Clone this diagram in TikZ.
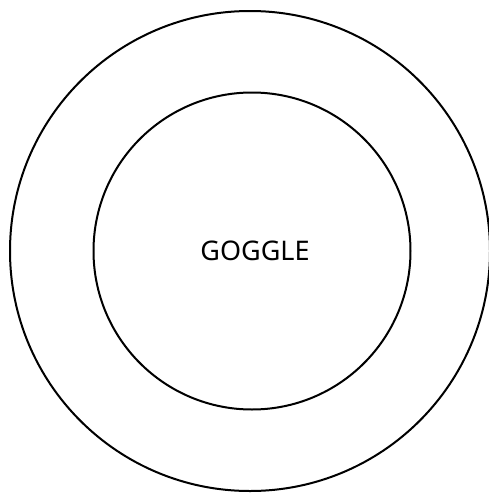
\documentclass[tikz,border=0pt]{standalone}
\usepackage{fontspec}
\setmainfont{Noto Sans}
\begin{document}
\begin{tikzpicture}[x=1pt,y=-1pt,
  ring/.style={circle,draw=black,line width=2pt,inner sep=0pt},
  lbl/.style={font=\fontsize{27}{32}\selectfont}]
\useasboundingbox (0,0) rectangle (488,496);
\node[ring,minimum size=480pt] (outer) at (250,251) {};
\node[ring,minimum size=317pt] (inner) at (252,251) {};
\node[lbl] (goggle) at (255,251) {GOGGLE};
\end{tikzpicture}
\end{document}
